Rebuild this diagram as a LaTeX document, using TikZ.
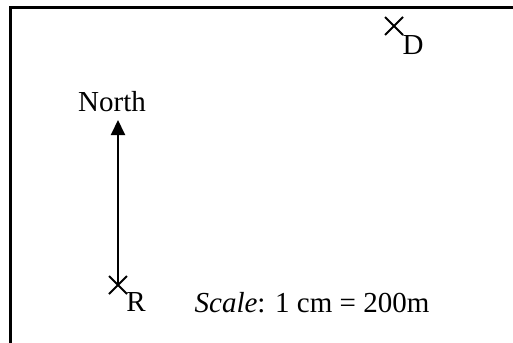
\documentclass[tikz,border=0pt]{standalone}
\usepackage{fontspec}
\setmainfont{Liberation Serif}
\usetikzlibrary{arrows.meta,shapes.misc}

\begin{document}
\begin{tikzpicture}[
    x=0.5pt, y=-0.5pt,
    xmark/.style={cross out, draw=black, line width=1pt, minimum size=8pt, inner sep=0pt},
    lbl/.style={font=\fontsize{14.5}{17}\selectfont, inner sep=0pt},
    frame/.style={draw, line width=1.3pt},
    line/.style={draw, line width=1pt, -{Triangle[length=7.5pt, width=7pt]}}
]
    \useasboundingbox (0,0) rectangle (513,342);

    % Map frame (top and left edges)
    \path[frame] (10.5,350) -- (10.5,7.5) -- (520,7.5);

    % Points
    \node[xmark] (markR) at (118,285) {};
    \node[xmark] (markD) at (394,26) {};
    \node[lbl] (labR) at (136,302) {R};
    \node[lbl] (labD) at (413,45) {D};

    % North arrow
    \coordinate (tip) at (118,120);
    \node[lbl] (north) at (112,102) {North};
    \path[line] (markR.center) -- (tip);

    % Scale
    \node[lbl] (scale) at (312,303) {\textit{Scale}: 1 cm = 200m};
\end{tikzpicture}
\end{document}
